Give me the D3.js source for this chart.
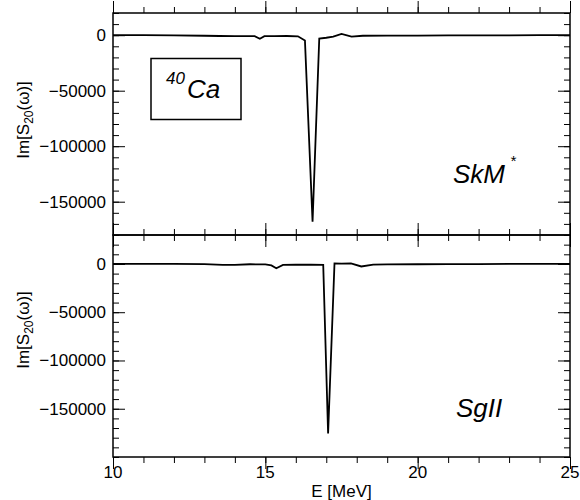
<!DOCTYPE html>
<html>
<head>
<meta charset="utf-8">
<script src="https://cdn.jsdelivr.net/npm/d3@7"></script>
<style>
  body { margin: 0; background: #fff; }
  svg { font-family: "Liberation Sans", Arial, sans-serif; }
</style>
</head>
<body>
<svg id="chart" width="580" height="500"></svg>
<script>
// SkM* panel (top)
const eTop = [10, 11, 12, 13, 13.5, 14, 14.4, 14.65, 14.82, 14.97, 15.3, 15.7, 16.07, 16.3, 16.55, 16.77, 17.0, 17.23, 17.5, 17.83, 18.2, 19, 20, 21, 22, 23, 24, 25];
const sTop = [0, 0, -200, -500, -700, -800, -800, -900, -3200, -900, -800, -700, -1000, -4800, -168000, -3000, -2300, -1300, 1200, -1300, -500, -400, -300, -200, -100, -100, 0, 0];
// SgII panel (bottom)
const eBot = [10, 11, 12, 13, 13.6, 14, 14.5, 15.0, 15.2, 15.36, 15.58, 16.0, 16.5, 16.9, 17.06, 17.27, 17.5, 17.81, 18.15, 18.54, 19, 20, 21, 22, 23, 24, 25];
const sBot = [0, 0, 0, -100, -900, -900, -300, -500, -1500, -4400, -1000, -700, -800, -900, -175700, 500, 400, 700, -2600, -600, -400, -300, -200, -100, 0, 0, 0];

const xTicks = [10, 15, 20, 25];
const yTicks = [0, -50000, -100000, -150000];

const left = 113, right = 570;
const svg = d3.select('#chart');

const x = d3.scaleLinear().domain([10, 25]).range([left, right]);
const xMinor = d3.range(10, 26, 1);

const panels = [
  {e: eTop, s: sTop, dom: [-180000, 20000], top: 13, bottom: 235, labelY: 120},
  {e: eBot, s: sBot, dom: [-200000, 30000], top: 235, bottom: 457, labelY: 330}
];

panels.forEach((p, i) => {
  const y = d3.scaleLinear().domain(p.dom).range([p.bottom, p.top]);
  const yMinor = d3.range(p.dom[0], p.dom[1] + 1, 10000);
  const g = svg.append('g');

  // inward ticks on all four sides
  const axes = [
    [d3.axisLeft(y), `translate(${left},0)`, yMinor, yTicks, true],
    [d3.axisRight(y), `translate(${right},0)`, yMinor, yTicks, false],
    [d3.axisTop(x), `translate(0,${p.bottom})`, xMinor, xTicks, false],
    [d3.axisBottom(x), `translate(0,${p.top})`, xMinor, xTicks, false]
  ];
  axes.forEach(([ax, tr, minor, major, labels]) => {
    g.append('g').attr('transform', tr)
      .call(ax.tickValues(minor).tickSize(-6).tickFormat(''))
      .call(s => s.select('.domain').remove());
    const gm = g.append('g').attr('transform', tr)
      .call(ax.tickValues(major).tickSize(-12).tickPadding(7)
        .tickFormat(labels ? d3.format('d') : ''));
    gm.select('.domain').remove();
    gm.selectAll('text').attr('font-size', 17).attr('fill', '#000')
      .attr('font-family', '"Liberation Sans", Arial, sans-serif');
  });
  g.selectAll('.tick line').attr('stroke', '#000').attr('stroke-width', 1);

  g.append('rect')
    .attr('x', left).attr('y', p.top)
    .attr('width', right - left).attr('height', p.bottom - p.top)
    .attr('fill', 'none').attr('stroke', '#000').attr('stroke-width', 1.5);

  const clipId = 'clip' + i;
  svg.append('clipPath').attr('id', clipId).append('rect')
    .attr('x', left).attr('y', p.top).attr('width', right - left).attr('height', p.bottom - p.top);

  const line = d3.line().x(d => x(d[0])).y(d => y(d[1]));
  g.append('path')
    .attr('d', line(d3.zip(p.e, p.s)))
    .attr('clip-path', `url(#${clipId})`)
    .attr('fill', 'none').attr('stroke', '#000').attr('stroke-width', 1.8);

  // y label
  const lab = svg.append('text')
    .attr('transform', `translate(29,${p.labelY}) rotate(-90)`)
    .attr('text-anchor', 'middle').attr('font-size', 17);
  lab.append('tspan').text('Im[S');
  lab.append('tspan').attr('font-size', 12).attr('dy', 4).text('20');
  lab.append('tspan').attr('dy', -4).text('(ω)]');
});

// x tick labels under the bottom panel
svg.selectAll('.xlab').data(xTicks).join('text')
  .attr('class', 'xlab')
  .attr('x', d => x(d)).attr('y', 478)
  .attr('text-anchor', 'middle').attr('font-size', 17)
  .text(d => d);

svg.append('text').attr('x', (left + right) / 2).attr('y', 496.5)
  .attr('text-anchor', 'middle').attr('font-size', 17).text('E [MeV]');

// panel names
svg.append('text').attr('x', 453).attr('y', 183).attr('font-size', 26)
  .attr('font-style', 'italic').text('SkM');
svg.append('text').attr('x', 510).attr('y', 166).attr('font-size', 15)
  .attr('font-style', 'italic').text('*');
svg.append('text').attr('x', 456).attr('y', 417).attr('font-size', 26)
  .attr('font-style', 'italic').text('SgII');

// nucleus box
svg.append('rect').attr('x', 151).attr('y', 58.5).attr('width', 90).attr('height', 61)
  .attr('fill', 'none').attr('stroke', '#000').attr('stroke-width', 1.5);
svg.append('text').attr('x', 166).attr('y', 84).attr('font-size', 17)
  .attr('font-style', 'italic').text('40');
svg.append('text').attr('x', 187).attr('y', 98).attr('font-size', 26)
  .attr('font-style', 'italic').text('Ca');
</script>
</body>
</html>
